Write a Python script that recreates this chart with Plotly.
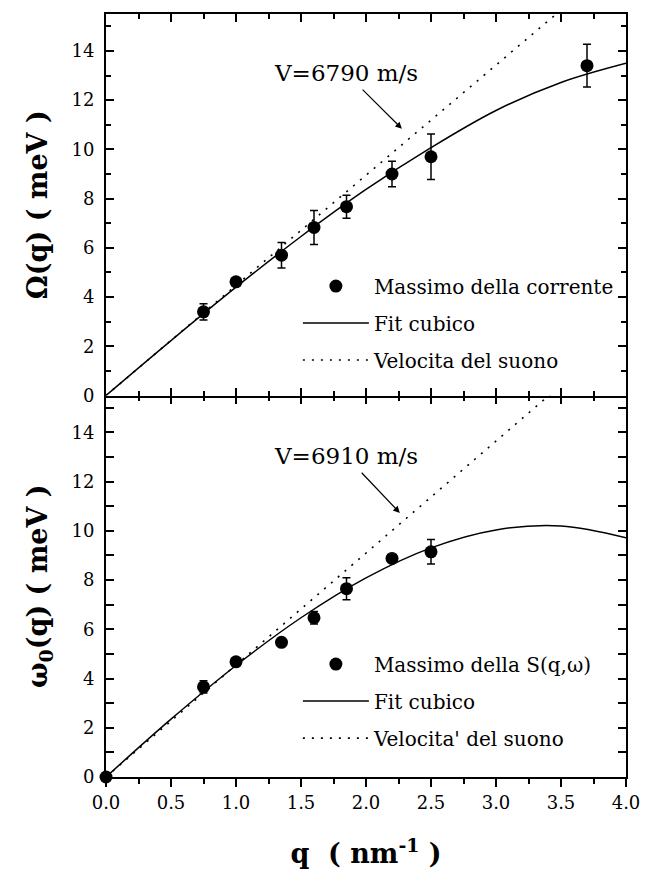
import plotly.graph_objects as go

# ---- data ----
q_top = [0.75, 1.0, 1.35, 1.6, 1.85, 2.2, 2.5, 3.7]
omega_top = [3.40, 4.62, 5.70, 6.83, 7.67, 9.00, 9.70, 13.40]
err_top = [0.33, 0.15, 0.52, 0.69, 0.47, 0.52, 0.92, 0.87]

q_bot = [0.0, 0.75, 1.0, 1.35, 1.6, 1.85, 2.2, 2.5]
omega_bot = [0.0, 3.66, 4.68, 5.47, 6.47, 7.65, 8.88, 9.15]
err_bot = [0.0, 0.25, 0.12, 0.12, 0.25, 0.45, 0.15, 0.50]

q_fit = [0.0, 0.5, 1.0, 1.5, 2.0, 2.5, 3.0, 3.5, 4.0]
fit_top = [0.0, 2.23, 4.40, 6.46, 8.37, 10.07, 11.58, 12.72, 13.50]
fit_bot = [0.0, 2.35, 4.53, 6.47, 8.09, 9.31, 10.04, 10.20, 9.72]

q_sound = [0.0, 4.0]
sound_top = [0.0, 17.9]   # V = 6790 m/s
sound_bot = [0.0, 18.2]   # V = 6910 m/s

x_ticks = [0.0, 0.5, 1.0, 1.5, 2.0, 2.5, 3.0, 3.5, 4.0]
y_ticks = [0, 2, 4, 6, 8, 10, 12, 14]

FONT = "DejaVu Serif"
BLACK = "black"

fig = go.Figure()

# top panel
fig.add_trace(go.Scatter(x=q_top, y=omega_top, mode="markers", name="Massimo della corrente",
                         marker=dict(color=BLACK, size=13),
                         error_y=dict(type="data", array=err_top, color=BLACK, thickness=1.5, width=4),
                         xaxis="x", yaxis="y", legend="legend", legendgroup="a1", cliponaxis=False))
fig.add_trace(go.Scatter(x=q_fit, y=fit_top, mode="lines", name="Fit cubico",
                         line=dict(color=BLACK, width=1.5, shape="spline"),
                         xaxis="x", yaxis="y", legend="legend", legendgroup="a2"))
fig.add_trace(go.Scatter(x=q_sound, y=sound_top, mode="lines", name="Velocita del suono",
                         line=dict(color=BLACK, width=1.6, dash="2px,7px"),
                         xaxis="x", yaxis="y", legend="legend", legendgroup="a3"))

# bottom panel
fig.add_trace(go.Scatter(x=q_bot, y=omega_bot, mode="markers", name="Massimo della S(q,ω)",
                         marker=dict(color=BLACK, size=13),
                         error_y=dict(type="data", array=err_bot, color=BLACK, thickness=1.5, width=4),
                         xaxis="x2", yaxis="y2", legend="legend2", legendgroup="b1", cliponaxis=False))
fig.add_trace(go.Scatter(x=q_fit, y=fit_bot, mode="lines", name="Fit cubico",
                         line=dict(color=BLACK, width=1.5, shape="spline"),
                         xaxis="x2", yaxis="y2", legend="legend2", legendgroup="b2"))
fig.add_trace(go.Scatter(x=q_sound, y=sound_bot, mode="lines", name="Velocita' del suono",
                         line=dict(color=BLACK, width=1.6, dash="2px,7px"),
                         xaxis="x2", yaxis="y2", legend="legend2", legendgroup="b3"))

# invisible trace so the extra tick axis (x3) renders
fig.add_trace(go.Scatter(x=[None], y=[None], xaxis="x3", yaxis="y2", showlegend=False, hoverinfo="skip"))

tickfont = dict(family=FONT, size=18, color=BLACK)
titlefont = dict(family=FONT, size=27, color=BLACK, weight="bold")

common_x = dict(range=[0, 4], tickvals=x_ticks, showline=True, linecolor=BLACK, linewidth=2,
                ticklen=8, tickwidth=1.5, tickcolor=BLACK, showgrid=False, zeroline=False,
                minor=dict(dtick=0.25, tick0=0, ticklen=5, tickwidth=1.5, tickcolor=BLACK, showgrid=False))
common_y = dict(range=[0, 15.5], tickvals=y_ticks, showline=True, linecolor=BLACK, linewidth=2,
                ticks="inside", ticklen=8, tickwidth=1.5, tickcolor=BLACK, showgrid=False, zeroline=False,
                mirror="allticks", tickfont=tickfont, ticklabelstandoff=6,
                minor=dict(dtick=1, tick0=0, ticklen=5, tickwidth=1.5, tickcolor=BLACK, ticks="inside", showgrid=False))

fig.update_layout(
    width=652, height=878,
    margin=dict(l=106, r=17, t=12, b=101),
    paper_bgcolor="white", plot_bgcolor="white",
    font=dict(family=FONT, color=BLACK),
    xaxis=dict(common_x, anchor="y", ticks="inside", mirror="allticks", showticklabels=False,
               minor=dict(common_x["minor"], ticks="inside")),
    yaxis=dict(common_y, domain=[0.5, 1.0], anchor="x",
               title=dict(text="Ω(q) ( meV )", font=titlefont, standoff=16)),
    xaxis2=dict(common_x, anchor="y2", ticks="outside", mirror=False, tickfont=tickfont,
                tickformat=".1f", minor=dict(common_x["minor"], ticks="outside"),
                title=dict(text="q  ( nm<sup>-1</sup> )", font=titlefont, standoff=33)),
    xaxis3=dict(common_x, anchor="y2", overlaying="x2", side="top", ticks="inside", showline=False,
                showticklabels=False, minor=dict(common_x["minor"], ticks="inside")),
    yaxis2=dict(common_y, domain=[0.0, 0.5], anchor="x2",
                title=dict(text="ω<sub>0</sub>(q) ( meV )", font=titlefont, standoff=16)),
    legend=dict(x=0.369, y=0.669, xanchor="left", yanchor="top", bgcolor="rgba(0,0,0,0)",
                font=dict(family=FONT, size=20, color=BLACK), itemwidth=66, tracegroupgap=8,
                traceorder="grouped"),
    legend2=dict(x=0.369, y=0.1735, xanchor="left", yanchor="top", bgcolor="rgba(0,0,0,0)",
                 font=dict(family=FONT, size=20, color=BLACK), itemwidth=66, tracegroupgap=8,
                 traceorder="grouped"),
    showlegend=True,
)

annfont = dict(family=FONT, size=23, color=BLACK)
fig.add_annotation(x=2.276, y=10.84, xref="x", yref="y", ax=1.845, ay=13.1, axref="x", ayref="y",
                   text="V=6790 m/s", font=annfont, showarrow=True, arrowhead=2, arrowsize=1.1,
                   arrowwidth=1.2, arrowcolor=BLACK, startstandoff=3)
fig.add_annotation(x=2.26, y=10.73, xref="x2", yref="y2", ax=1.845, ay=13.04, axref="x2", ayref="y2",
                   text="V=6910 m/s", font=annfont, showarrow=True, arrowhead=2, arrowsize=1.1,
                   arrowwidth=1.2, arrowcolor=BLACK, startstandoff=3)

fig.write_html("out.html")
